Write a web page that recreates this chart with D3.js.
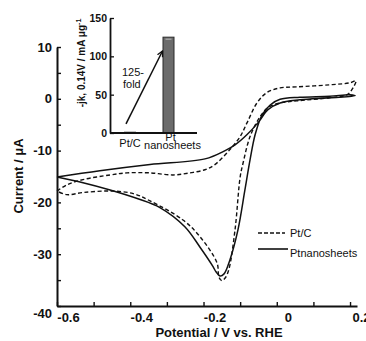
<!DOCTYPE html>
<html>
<head>
<meta charset="utf-8">
<script src="https://cdn.jsdelivr.net/npm/d3@7"></script>
<style>
  body { margin: 0; background: #fff; }
  svg { font-family: "Liberation Sans", Arial, sans-serif; }
  .axis path, .axis line { stroke: #111; }
  .axis text { fill: #111; font-weight: bold; }
</style>
</head>
<body>
<svg width="366" height="341"></svg>
<script>
var width = 366,
    height = 341;

// Pt/C cyclic voltammogram (dashed)
var ptcV = [-0.600, -0.573, -0.529, -0.455, -0.409, -0.346, -0.283, -0.237, -0.196, -0.169,
            -0.128, -0.100, -0.081, -0.054, -0.027, 0.009, 0.055, 0.145, 0.200, 0.216,
            0.208, 0.192, 0.145, 0.055, 0.009, -0.024, -0.046, -0.073, -0.092, -0.100,
            -0.114, -0.131, -0.141, -0.150, -0.158, -0.163, -0.210, -0.256, -0.346, -0.392,
            -0.455, -0.529, -0.573, -0.600];
var ptcI = [-17.8, -16.6, -15.6, -14.7, -14.3, -14.3, -14.7, -14.3, -13.7, -12.7,
            -9.8, -7.3, -4.6, -0.8, 1.2, 2.1, 2.3, 2.7, 3.1, 3.5,
            2.1, 0.8, 0.2, -0.4, -0.8, -1.7, -3.5, -7.3, -12.4, -15.1,
            -25.3, -33.0, -34.6, -35.1, -34.4, -31.7, -26.6, -23.4, -19.7, -18.3,
            -17.8, -18.1, -18.5, -17.8];

// Pt nanosheets cyclic voltammogram (solid)
var nsV = [-0.600, -0.483, -0.346, -0.196, -0.141, -0.114, -0.081, -0.051, -0.024, 0.009,
           0.063, 0.145, 0.214, 0.200, 0.145, 0.063, 0.009, -0.018, -0.040, -0.059,
           -0.073, -0.087, -0.106, -0.128, -0.144, -0.155, -0.166, -0.174, -0.210, -0.251,
           -0.319, -0.379, -0.455, -0.529, -0.600];
var nsI = [-15.1, -13.9, -12.7, -11.6, -10.0, -8.9, -6.9, -4.6, -2.1, -0.8,
           -0.2, 0.2, 0.6, 0.8, 0.5, 0.3, -0.1, -1.2, -3.1, -6.9,
           -11.8, -17.6, -25.3, -31.1, -33.8, -34.2, -33.4, -32.4, -28.6, -24.7,
           -21.0, -19.3, -17.6, -16.2, -15.1];

var seriesNames = ["Pt/C", "Ptnanosheets"];

var xTicks = [-6, -5, -4, -3, -2, -1, 0, 1, 2].map(function(d) { return d / 10; });
var yTicks = [10, 5, 0, -5, -10, -15, -20, -25, -30, -35, -40];

// inset bar chart
var insetCats = ["Pt/C", "Pt nanosheets"];
var insetVals = [1, 125];
var insetTicks = [0, 50, 100, 150];

var svg = d3.select("svg");

var x = d3.scaleLinear().domain([-0.6, 0.219]).range([57, 357]);
var y = d3.scaleLinear().domain([-40, 10]).range([306, 47]);

// x axis
var xAxis = svg.append("g")
    .attr("class", "axis")
    .attr("transform", "translate(0," + y(-40) + ")")
    .call(d3.axisBottom(x).tickValues(xTicks).tickSizeInner(-4).tickSizeOuter(0).tickPadding(7)
      .tickFormat(function(d) {
        var k = Math.round(d * 10);
        if (k % 2 !== 0) return "";
        return k === 0 ? "0" : String(k / 10);
      }));
xAxis.select(".domain").attr("stroke-width", 2);
xAxis.selectAll("line").attr("stroke-width", 1.4);
xAxis.selectAll("text").attr("font-size", 13).attr("dx", 11);

// y axis
var yAxis = svg.append("g")
    .attr("class", "axis")
    .attr("transform", "translate(" + x(-0.6) + ",0)")
    .call(d3.axisLeft(y).tickValues(yTicks).tickSizeInner(-4).tickSizeOuter(0).tickPadding(5)
      .tickFormat(function(d) { return d % 10 === 0 ? String(d) : ""; }));
yAxis.select(".domain").attr("stroke-width", 2);
yAxis.selectAll("line").attr("stroke-width", 1.4);
yAxis.selectAll("text").attr("font-size", 13)
    .attr("dy", function(d) { return d === -40 ? "0.9em" : "0.32em"; });

// axis titles
svg.append("text")
    .attr("x", 219).attr("y", 337)
    .attr("text-anchor", "middle")
    .attr("font-size", 13).attr("font-weight", "bold").attr("fill", "#111")
    .text("Potential / V vs. RHE");

svg.append("text")
    .attr("transform", "translate(23,176) rotate(-90)")
    .attr("text-anchor", "middle")
    .attr("font-size", 13).attr("font-weight", "bold").attr("fill", "#111")
    .text("Current / μA");

// CV curves
var line = d3.line()
    .x(function(d) { return x(d[0]); })
    .y(function(d) { return y(d[1]); })
    .curve(d3.curveCatmullRom.alpha(0.5));

svg.append("path")
    .datum(ptcV.map(function(v, i) { return [v, ptcI[i]]; }))
    .attr("fill", "none")
    .attr("stroke", "#111")
    .attr("stroke-width", 1.4)
    .attr("stroke-dasharray", "4,2.5")
    .attr("d", line);

svg.append("path")
    .datum(nsV.map(function(v, i) { return [v, nsI[i]]; }))
    .attr("fill", "none")
    .attr("stroke", "#111")
    .attr("stroke-width", 1.5)
    .attr("d", line);

// legend
var legend = svg.append("g").attr("transform", "translate(258,233)");
seriesNames.forEach(function(name, i) {
  var g = legend.append("g").attr("transform", "translate(0," + (i * 16) + ")");
  g.append("line")
      .attr("x1", 0).attr("x2", i === 0 ? 27 : 30)
      .attr("stroke", "#111").attr("stroke-width", 1.6)
      .attr("stroke-dasharray", i === 0 ? "4,2" : null);
  g.append("text")
      .attr("x", 32).attr("y", i === 0 ? 0 : 4)
      .attr("dy", "0.35em")
      .attr("font-size", 11).attr("fill", "#111")
      .text(name);
});

// inset
var xi = d3.scalePoint().domain(insetCats).range([130, 168.5]);
var yi = d3.scaleLinear().domain([0, 150]).range([133, 18]);

var inset = svg.append("g");

inset.selectAll(".bar")
    .data(insetVals)
    .enter().append("rect")
    .attr("class", "bar")
    .attr("x", function(d, i) { return xi(insetCats[i]) - 5.5; })
    .attr("width", 11)
    .attr("y", function(d) { return yi(d); })
    .attr("height", function(d) { return yi(0) - yi(d); })
    .attr("fill", "#6b6b6b")
    .attr("stroke", "#2a2a2a")
    .attr("stroke-width", 1);

inset.selectAll(".hl")
    .data(insetVals)
    .enter().append("line")
    .attr("x1", function(d, i) { return xi(insetCats[i]) - 3; })
    .attr("x2", function(d, i) { return xi(insetCats[i]) + 3; })
    .attr("y1", function(d) { return yi(d) + 2; })
    .attr("y2", function(d) { return yi(d) + 2; })
    .attr("stroke", "#bbb")
    .attr("stroke-width", function(d) { return d > 10 ? 1 : 0; });

var iy = inset.append("g")
    .attr("class", "axis")
    .attr("transform", "translate(110,0)")
    .call(d3.axisLeft(yi).tickValues(insetTicks).tickSizeInner(-4).tickSizeOuter(0).tickPadding(3));
iy.select(".domain").attr("stroke-width", 1.8);
iy.selectAll("line").attr("stroke-width", 1.3);
iy.selectAll("text").attr("font-size", 10.5);

inset.append("line")
    .attr("x1", 110).attr("x2", 197)
    .attr("y1", yi(0)).attr("y2", yi(0))
    .attr("stroke", "#111").attr("stroke-width", 1.8);

inset.append("text")
    .attr("x", xi("Pt/C")).attr("y", 147)
    .attr("text-anchor", "middle").attr("font-size", 11).attr("fill", "#111")
    .text("Pt/C");
inset.append("text")
    .attr("x", xi("Pt nanosheets") + 2).attr("y", 141)
    .attr("text-anchor", "middle").attr("font-size", 11).attr("fill", "#111")
    .text("Pt");
inset.append("text")
    .attr("x", xi("Pt nanosheets") + 4).attr("y", 149)
    .attr("text-anchor", "middle").attr("font-size", 11).attr("fill", "#111")
    .text("nanosheets");

inset.append("text")
    .attr("transform", "translate(85,63) rotate(-90)")
    .attr("text-anchor", "middle")
    .attr("font-size", 10).attr("font-weight", "bold").attr("fill", "#111")
    .html('-jk, 0.14V / mA μg<tspan dy="-4" font-size="7">-1</tspan>');

// arrow
var defs = svg.append("defs");
defs.append("marker")
    .attr("id", "arrow")
    .attr("viewBox", "0 0 10 10")
    .attr("refX", 9).attr("refY", 5)
    .attr("markerWidth", 7).attr("markerHeight", 7)
    .attr("markerUnits", "userSpaceOnUse")
    .attr("orient", "auto")
  .append("path")
    .attr("d", "M1,1 L9,5 L1,9")
    .attr("fill", "none").attr("stroke", "#111").attr("stroke-width", 1.8);

inset.append("line")
    .attr("x1", xi("Pt/C") - 4).attr("y1", yi(12))
    .attr("x2", xi("Pt nanosheets") - 6).attr("y2", yi(107))
    .attr("stroke", "#111").attr("stroke-width", 1.5)
    .attr("marker-end", "url(#arrow)");

inset.append("text")
    .attr("x", 122).attr("y", 76)
    .attr("font-size", 11).attr("fill", "#111")
    .text("125-");
inset.append("text")
    .attr("x", 123).attr("y", 88)
    .attr("font-size", 11).attr("fill", "#111")
    .text("fold");
</script>
</body>
</html>
